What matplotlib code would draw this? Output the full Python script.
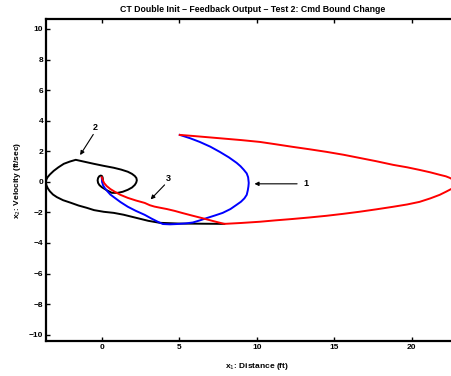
import matplotlib
matplotlib.use("Agg")
import matplotlib.pyplot as plt

plt.rcParams['font.family'] = ['Liberation Sans', 'DejaVu Sans']

# Blue trajectory (test 1)
blue_x = [5.03, 5.7, 6.32, 7.0, 7.61, 8.2, 8.7, 8.95, 9.15, 9.35, 9.44, 9.48, 9.46, 9.42, 9.35, 9.2, 8.98, 8.7, 8.3, 7.8, 7.3, 6.77, 6.3, 5.87, 5.4, 4.84, 4.4, 3.94,
          3.61, 3.2, 2.77, 2.2, 1.68, 1.2, 0.84, 0.55, 0.39, 0.2, 0.08, 0.02, 0.0]
blue_y = [3.07, 2.85, 2.61, 2.3, 1.96, 1.6, 1.24, 1.02, 0.8, 0.55, 0.3, -0.07, -0.3, -0.55, -0.85, -1.08, -1.3, -1.5, -1.78, -2.03, -2.2, -2.37, -2.53, -2.66, -2.72, -2.76, -2.78, -2.76,
          -2.61, -2.4, -2.16, -1.9, -1.63, -1.32, -1.05, -0.83, -0.65, -0.42, -0.22, 0.0, 0.26]

# Red trajectory (test 3)
red_x = [5.03, 6.0, 7.5, 9.0, 10.2, 11.2, 12.3, 13.4, 14.5, 15.6, 16.6, 17.7, 18.8, 19.7, 20.5, 21.2, 21.8, 22.2, 22.45, 22.7, 22.85, 22.9,
         22.8, 22.6, 22.2, 21.8, 21.2, 20.5, 19.7, 18.8, 17.7, 16.6, 15.6, 14.5, 13.4, 12.3, 11.2, 10.2, 9.0, 7.9,
         7.2, 6.5, 5.8, 5.2, 4.7, 4.2, 3.74, 3.4, 3.1, 2.77, 2.2, 1.68, 1.2, 0.84, 0.55, 0.32, 0.15, 0.06, 0.0]
red_y = [3.07, 2.99, 2.86, 2.73, 2.61, 2.46, 2.29, 2.13, 1.96, 1.77, 1.57, 1.35, 1.11, 0.95, 0.78, 0.62, 0.46, 0.36, 0.26, 0.12, 0.0, -0.15,
         -0.3, -0.44, -0.65, -0.85, -1.08, -1.31, -1.48, -1.63, -1.8, -1.96, -2.09, -2.22, -2.33, -2.43, -2.52, -2.61, -2.69, -2.75,
         -2.57, -2.38, -2.2, -2.04, -1.9, -1.78, -1.69, -1.62, -1.53, -1.38, -1.22, -1.05, -0.85, -0.65, -0.47, -0.28, -0.08, 0.12, 0.3]

# Black trajectory (test 2)
black_x = [7.9, 6.5, 5.0, 3.74, 3.0, 2.0, 1.4, 0.77, 0.13, -0.5, -0.97, -1.5, -2.0, -2.5, -2.9, -3.15, -3.35, -3.48, -3.57, -3.61,
           -3.58, -3.5, -3.35, -3.1, -2.8, -2.45, -2.05, -1.68,
           -1.1, -0.52, 0.1, 0.77, 1.25, 1.68, 1.95, 2.13, 2.23, 2.26, 2.22, 2.13, 1.95, 1.68, 1.35, 1.03, 0.65, 0.32, 0.0, -0.15, -0.24, -0.27, -0.24, -0.17, -0.08, 0.0, 0.05, 0.07, 0.06]
black_y = [-2.75, -2.74, -2.73, -2.68, -2.55, -2.3, -2.15, -2.03, -1.96, -1.85, -1.7, -1.55, -1.37, -1.2, -1.0, -0.83, -0.62, -0.43, -0.23, -0.05,
           0.14, 0.3, 0.48, 0.72, 0.95, 1.18, 1.33, 1.44,
           1.31, 1.18, 1.05, 0.92, 0.8, 0.66, 0.52, 0.38, 0.25, 0.1, -0.05, -0.2, -0.37, -0.52, -0.65, -0.72, -0.72, -0.55, -0.35, -0.22, -0.07, 0.1, 0.25, 0.36, 0.41, 0.39, 0.3, 0.15, 0.0]

labels = ["1", "2", "3"]
label_xy = [(13.2, -0.1), (-0.4, 3.55), (4.3, 0.2)]
arrow_tail = [(12.6, -0.13), (-0.55, 3.1), (4.05, -0.2)]
arrow_head = [(9.85, -0.13), (-1.4, 1.75), (3.15, -1.15)]

title = "CT Double Init \u2013 Feedback Output \u2013 Test 2: Cmd Bound Change"
xlabel = "x$_1$: Distance (ft)"
ylabel = "x$_2$: Velocity (ft/sec)"
xticks = [0, 5, 10, 15, 20]
yticks = [-10, -8, -6, -4, -2, 0, 2, 4, 6, 8, 10]

W, H = 452, 376
fig = plt.figure(figsize=(W / 100, H / 100), dpi=100)
# axes extends beyond the right edge of the figure (cropped like the reference)
x0, x1 = -3.6, 25.0
px_per_unit = 15.5
left_px = 46
right_px = left_px + (x1 - x0) * px_per_unit
ax = fig.add_axes([left_px / W, 35 / H, (right_px - left_px) / W, (341 - 19) / H])

ax.plot(black_x, black_y, color='black', lw=1.4)
ax.plot(blue_x, blue_y, color='#0000ff', lw=1.4)
ax.plot(red_x, red_y, color='#ff0000', lw=1.4)

for lab, txy, tail, head in zip(labels, label_xy, arrow_tail, arrow_head):
    ax.annotate("", xy=head, xytext=tail,
                arrowprops=dict(arrowstyle='-|>', color='black', lw=0.8,
                                mutation_scale=6, shrinkA=0, shrinkB=0))
    ax.text(txy[0], txy[1], lab, fontsize=6.5, fontweight='bold', ha='center', va='center')

ax.set_xlim(x0, x1)
ax.set_ylim(-10.41, 10.65)
ax.set_xticks(xticks)
ax.set_yticks(yticks)
ax.set_yticklabels([str(v).replace('-', '\u2212') for v in yticks])
ax.tick_params(direction='in', length=3, width=1.0, labelsize=6, top=True, right=True, pad=2)
for lbl in ax.get_xticklabels() + ax.get_yticklabels():
    lbl.set_fontweight('bold')
for s in ax.spines.values():
    s.set_linewidth(1.6)

ax.set_title(title, fontsize=6.3, fontweight='bold', pad=5)
ax.set_ylabel(ylabel, fontsize=6, fontweight='bold', labelpad=4)
fig.text(257 / W, 1 - 366 / H, xlabel, fontsize=6, fontweight='bold', ha='center', va='center')
# title centered over visible area
ax.title.set_position(((253 - left_px) / (right_px - left_px), 1.0))

fig.savefig("out.png", dpi=100)
